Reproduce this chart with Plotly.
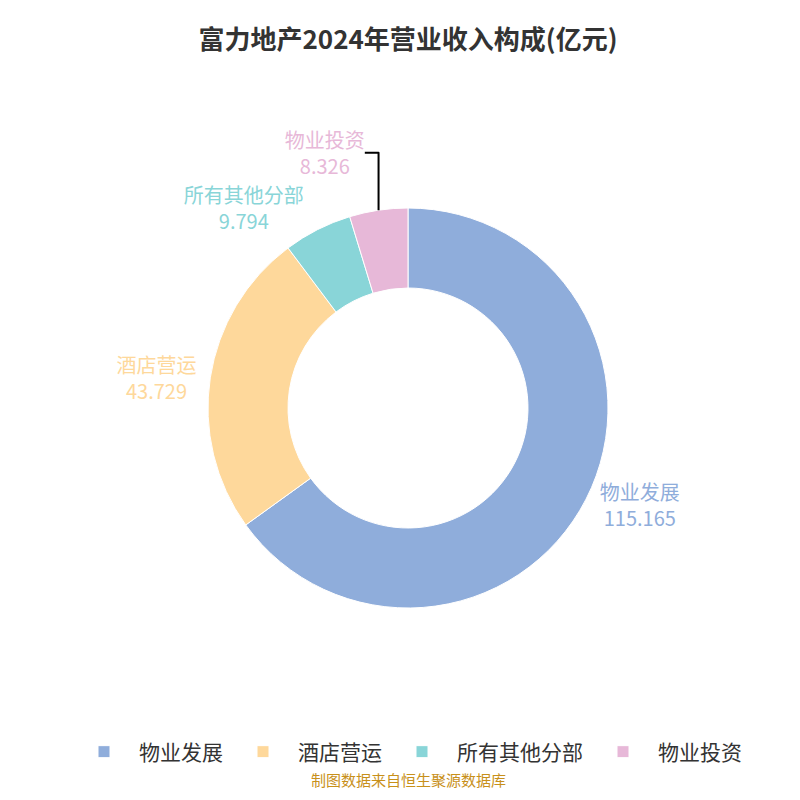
import plotly.graph_objects as go

labels = ["物业发展", "酒店营运", "所有其他分部", "物业投资"]
values = [115.165, 43.729, 9.794, 8.326]
colors = ["#8FADDB", "#FED89B", "#89D5D8", "#E7B8D8"]

fig = go.Figure(go.Pie(
    labels=labels,
    values=values,
    hole=0.6,
    sort=False,
    direction="clockwise",
    rotation=0,
    marker=dict(colors=colors, line=dict(color="white", width=1)),
    texttemplate="%{label}<br>%{value}",
    textposition="outside",
    textfont=dict(color=colors, size=20),
    domain=dict(x=[0.25, 0.75], y=[0.25, 0.75]),
    showlegend=True,
))

fig.update_layout(
    width=800, height=800,
    margin=dict(l=0, r=0, t=0, b=0),
    paper_bgcolor="white",
    font=dict(family="Noto Sans CJK SC"),
    title=dict(text="<b>富力地产2024年营业收入构成(亿元)</b>", x=0.5, y=0.972,
               xanchor="center", font=dict(size=26, color="#333333")),
    legend=dict(orientation="h", x=0.5, xanchor="center", y=0.07, yanchor="middle",
                font=dict(size=21, color="#333333"), itemwidth=60),
    annotations=[dict(text="制图数据来自恒生聚源数据库", x=0.5, y=0.02, xref="paper", yref="paper",
                      showarrow=False, font=dict(size=15, color="#C8901A"))],
)

fig.write_html("out.html")
